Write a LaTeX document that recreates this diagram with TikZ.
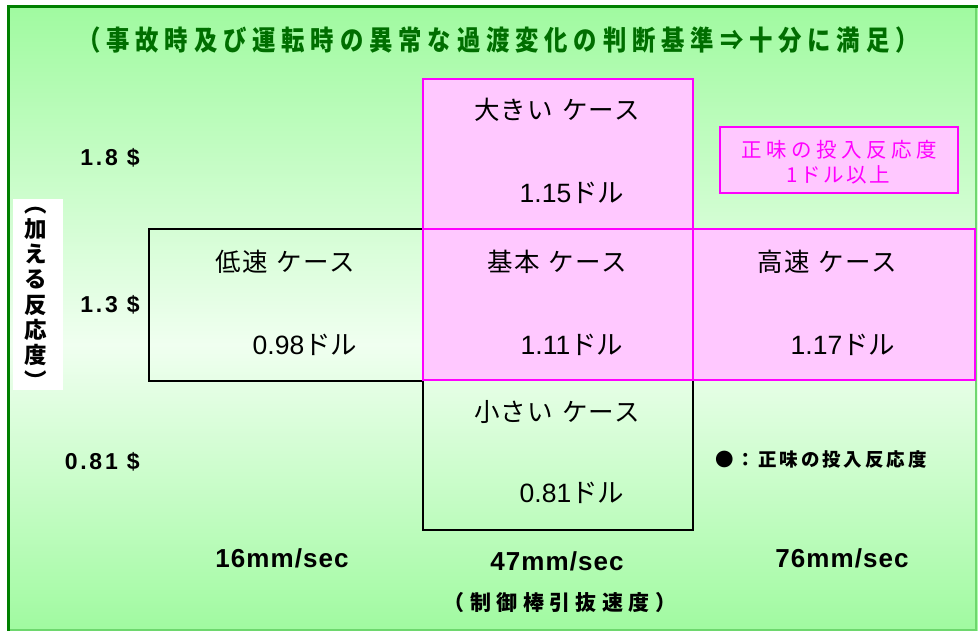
\documentclass[tikz,border=0pt]{standalone}
\usepackage{fontspec}
\setmainfont{Liberation Sans}
\newfontfamily\jp{Noto Sans CJK JP}
\definecolor{gbg}{RGB}{160,250,160}
\definecolor{glight}{RGB}{240,255,240}
\definecolor{frameg}{RGB}{0,128,0}
\definecolor{edgeg}{RGB}{110,215,110}
\definecolor{titleg}{RGB}{0,110,0}
\definecolor{pinkfill}{RGB}{255,200,255}
\definecolor{mag}{RGB}{255,0,255}
\tikzset{
  pinkbox/.style={draw=mag, fill=pinkfill, line width=2pt, inner sep=0, outer sep=0},
  blackbox/.style={draw=black, line width=1.3pt, inner sep=0, outer sep=0},
  casetxt/.style={font=\jp\fontsize{25.5}{28}\selectfont\addfontfeatures{LetterSpace=5}, inner sep=0},
  valtxt/.style={font=\fontsize{26.5}{28}\selectfont, inner sep=0},
  ylab/.style={font=\bfseries\fontsize{23}{26}\selectfont\addfontfeatures{LetterSpace=12}, inner sep=0, anchor=east},
  xlab/.style={font=\bfseries\fontsize{26}{28}\selectfont\addfontfeatures{LetterSpace=4}, inner sep=0},
}
\newcommand{\dollar}[1]{#1{\jp ドル}}
\newcommand{\gap}{\hspace{9pt}}
\begin{document}
\begin{tikzpicture}[x=1pt,y=-1pt]
\useasboundingbox (0,0) rectangle (978,631);
\fill[white] (0,0) rectangle (978,631);
% background
\shade[top color=gbg, bottom color=glight] (8,6) rectangle (978,345);
\shade[top color=glight, bottom color=gbg] (8,344.5) rectangle (978,631);
\draw[edgeg, line width=2pt] (8,629.5) -- (975.5,629.5) -- (975.5,6);
\draw[frameg, line width=3pt] (8.5,631) -- (8.5,6.5) -- (978,6.5);
% title
\node[inner sep=0, text=titleg, font=\jp\bfseries\fontsize{27.5}{30}\selectfont\addfontfeatures{LetterSpace=25}] (title) at (498,40) {\scalebox{0.85}[1]{（事故時及び運転時の異常な過渡変化の判断基準⇒十分に満足）}};
% boxes
\node[blackbox, minimum width=274pt, minimum height=152pt] (low) at (286,305) {};
\node[blackbox, minimum width=270pt, minimum height=150pt] (small) at (558,455) {};
\node[pinkbox, minimum width=270pt, minimum height=150pt] (large) at (558,154) {};
\node[pinkbox, minimum width=282pt, minimum height=151pt] (high) at (834,304.5) {};
\node[pinkbox, minimum width=270pt, minimum height=151pt] (base) at (558,304.5) {};
% legend box
\node[pinkbox, line width=1.6pt, minimum width=238pt, minimum height=66pt] (legbox) at (839,160) {};
\node[inner sep=0, text=mag, font=\jp\fontsize{20.5}{25}\selectfont\addfontfeatures{LetterSpace=22}] (leg1) at (839,150) {正味の投入反応度};
\node[inner sep=0, text=mag, font=\jp\fontsize{20.5}{25}\selectfont\addfontfeatures{LetterSpace=12}] (leg2) at (838,175) {1ドル以上};
% case texts
\node[casetxt] (tlarge) at (557,110) {大きい\gap ケース};
\node[valtxt] (vlarge) at (572,193) {\dollar{1.15}};
\node[casetxt] (tbase) at (557,262) {基本\gap ケース};
\node[valtxt] (vbase) at (572,345) {\dollar{1.11}};
\node[casetxt] (tlow) at (285,262) {低速\gap ケース};
\node[valtxt] (vlow) at (305,345) {\dollar{0.98}};
\node[casetxt] (thigh) at (827,262) {高速\gap ケース};
\node[valtxt] (vhigh) at (843,345) {\dollar{1.17}};
\node[casetxt] (tsmall) at (557,412) {小さい\gap ケース};
\node[valtxt] (vsmall) at (572,493) {\dollar{0.81}};
% y labels
\node[ylab] (y18) at (140,158) {1.8 \$};
\node[ylab] (y13) at (140,305) {1.3 \$};
\node[ylab] (y081) at (140,462) {0.81 \$};
% y axis title
\node[fill=white, inner sep=0, minimum width=50pt, minimum height=191pt] (ytbox) at (38,294.5) {};
\node[inner sep=0, align=center, font=\jp\bfseries\fontsize{22.5}{25.3}\selectfont] (ytitle) at (36,298) {︵\\加\\え\\る\\反\\応\\度\\︶};
% legend note
\node[inner sep=0, font=\jp\bfseries\fontsize{18.5}{20}\selectfont\addfontfeatures{LetterSpace=16}] (note) at (821,460) {●：正味の投入反応度};
% x labels
\node[xlab] (x16) at (282,558) {16mm/sec};
\node[xlab] (x47) at (557,561) {47mm/sec};
\node[xlab] (x76) at (842,558) {76mm/sec};
\node[inner sep=0, font=\jp\bfseries\fontsize{21}{22}\selectfont\addfontfeatures{LetterSpace=26}] (xtitle) at (560,603) {（制御棒引抜速度）};
\end{tikzpicture}
\end{document}
